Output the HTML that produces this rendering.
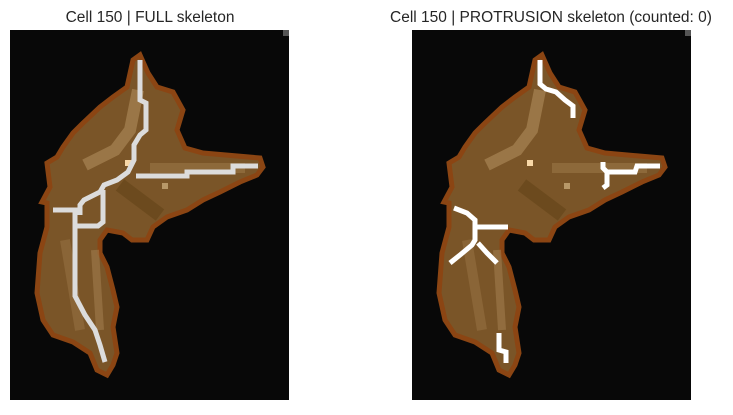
<!DOCTYPE html>
<html><head><meta charset="utf-8"><style>
body{margin:0;background:#fff;width:733px;height:410px;overflow:hidden;font-family:"Liberation Sans",sans-serif}
</style></head><body>
<svg width="733" height="410" viewBox="0 0 733 410" xmlns="http://www.w3.org/2000/svg">
<defs>
<g id="cell">
<polygon points="140,55 148,73 157,87 173,92 183,110 177,130 185,148 203,153 260,158 263,167 257,175 240,182 220,192 203,200 187,210 167,217 153,227 147,240 132,240 123,233 107,230 100,240 100,253 107,267 113,290 117,307 113,327 117,353 113,365 107,375 97,370 90,353 73,342 53,335 43,320 37,293 40,253 47,227 47,203 42,202 50,187 47,163 57,157 63,147 73,133 83,123 100,107 113,97 127,87 133,60" fill="#7a5528" stroke="#8b4513" stroke-width="5" stroke-linejoin="miter"/>
<path d="M138,90 L130,130 L115,150 L85,165" stroke="#a88454" stroke-width="12" fill="none" opacity="0.7"/>
<path d="M150,168 L245,168" stroke="#9a7646" stroke-width="10" fill="none" opacity="0.6"/>
<path d="M65,240 L80,330" stroke="#9a7646" stroke-width="10" fill="none" opacity="0.5"/>
<path d="M95,250 L100,330" stroke="#a88454" stroke-width="8" fill="none" opacity="0.5"/>
<path d="M120,185 L160,215" stroke="#5e3f14" stroke-width="14" fill="none" opacity="0.5"/>
<rect x="125" y="160" width="6" height="6" fill="#f8d8a8"/>
<rect x="162" y="183" width="6" height="6" fill="#b89868"/>
</g>
</defs>
<text x="150" y="22" text-anchor="middle" font-size="15.5" fill="#262626">Cell 150 | FULL skeleton</text>
<text x="551" y="22" text-anchor="middle" font-size="15.5" fill="#262626">Cell 150 | PROTRUSION skeleton (counted: 0)</text>
<g>
<rect x="10" y="30" width="279" height="370" fill="#080808"/>
<rect x="283" y="30" width="6" height="6" fill="#555"/>
<use href="#cell"/>
<g fill="none" stroke="#dcdcdc" stroke-width="5" stroke-linejoin="miter">
<polyline points="140,60 140,100 146,103 146,130 140,135 134,145 134,160 128,172 117,180 104,185 100,192 84,200 80,205 80,215"/>
<polyline points="136,176 187,176 187,172 233,172 233,166 258,166"/>
<polyline points="53,210 75,210 75,296 85,315 95,330 100,345 105,362"/>
<polyline points="103,190 103,222 98,226 76,226"/>
</g>
</g>
<g>
<rect x="412" y="30" width="279" height="370" fill="#080808"/>
<rect x="685" y="30" width="6" height="6" fill="#555"/>
<use href="#cell" x="402"/>
<g fill="none" stroke="#ffffff" stroke-width="5" stroke-linejoin="miter">
<polyline points="540,60 540,84 546,89 556,92 565,100 573,106 573,118"/>
<polyline points="603,162 603,168 607,172 607,185 603,188"/>
<polyline points="607,172 635,172 637,166 660,166"/>
<polyline points="454,208 467,213 475,220 475,240 472,245 460,255 450,263"/>
<polyline points="476,227 508,227"/>
<polyline points="478,243 487,253 497,263"/>
<polyline points="499,333 499,350 506,352 506,363"/>
</g>
</g>
</svg>
</body></html>
